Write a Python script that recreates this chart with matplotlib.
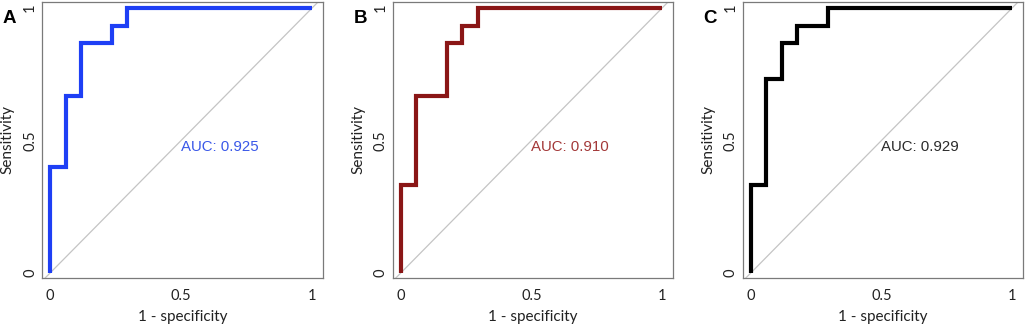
import matplotlib
matplotlib.use("Agg")
import matplotlib.pyplot as plt

# ---- data ----
panel_letters = ["A", "B", "C"]
auc_labels = ["AUC: 0.925", "AUC: 0.910", "AUC: 0.929"]

fpr_A = [0, 0, 0.059, 0.118, 0.235, 0.294, 1.0]
tpr_A = [0, 0.400, 0.667, 0.867, 0.933, 1.0, 1.0]

fpr_B = [0, 0, 0.059, 0.176, 0.235, 0.294, 1.0]
tpr_B = [0, 0.333, 0.667, 0.867, 0.933, 1.0, 1.0]

fpr_C = [0, 0, 0.059, 0.118, 0.176, 0.294, 1.0]
tpr_C = [0, 0.333, 0.733, 0.867, 0.933, 1.0, 1.0]

tick_vals = [0, 0.5, 1]
tick_labels = ["0", "0.5", "1"]

line_colors = ["#1e3ff5", "#8a1616", "#000000"]
text_colors = ["#3a58e8", "#a33838", "#2b2b2b"]

W, H = 1026, 330
fig = plt.figure(figsize=(W / 100, H / 100), dpi=100)

boxes_px = [(42, 323), (392.7, 673), (742.7, 1023)]
top_px, bot_px = 2, 278

label_font = ["Lato", "DejaVu Sans"]
curves = [(fpr_A, tpr_A), (fpr_B, tpr_B), (fpr_C, tpr_C)]

for i, ((l, r), (fx, ty)) in enumerate(zip(boxes_px, curves)):
    ax = fig.add_axes([l / W, 1 - bot_px / H, (r - l) / W, (bot_px - top_px) / H])
    ax.set_xlim(-0.031, 1.042)
    ax.set_ylim(-0.019, 1.023)
    ax.axline((0, 0), (1, 1), color="#c4c4c4", lw=0.9, zorder=1)
    ax.step(fx, ty, where="post", color=line_colors[i], lw=3.0,
            solid_joinstyle="miter", solid_capstyle="butt", zorder=3)
    ax.text(0.5, 0.475, auc_labels[i], color=text_colors[i], fontsize=10.8,
            family=["Liberation Sans", "DejaVu Sans"], ha="left", va="center")
    for s in ax.spines.values():
        s.set_color("#7a7a7a")
        s.set_linewidth(0.9)
    ax.set_xticks(tick_vals)
    ax.set_xticklabels(tick_labels, family=label_font, fontsize=10.5, color="#222222")
    ax.set_yticks(tick_vals)
    ax.set_yticklabels(tick_labels, family=label_font, fontsize=10.5, color="#222222",
                       rotation=90, va="center")
    ax.tick_params(axis="x", length=0, pad=8)
    ax.tick_params(axis="y", length=0, pad=3.5)
    ax.set_xlabel("1 - specificity", family=label_font, fontsize=11, color="#222222")
    ax.xaxis.label.set_va("center")
    ax.xaxis.set_label_coords(0.5, -0.141)
    ax.set_ylabel("Sensitivity", family=label_font, fontsize=11, color="#222222")
    ax.yaxis.label.set_va("center")
    ax.yaxis.set_label_coords(-0.123, 0.5)
    fig.text((l - 39) / W, 1 - 23 / H, panel_letters[i], fontsize=13.5, fontweight="bold",
             family=["Liberation Sans", "DejaVu Sans"], ha="left", va="baseline")

fig.savefig("out.png", dpi=100)
